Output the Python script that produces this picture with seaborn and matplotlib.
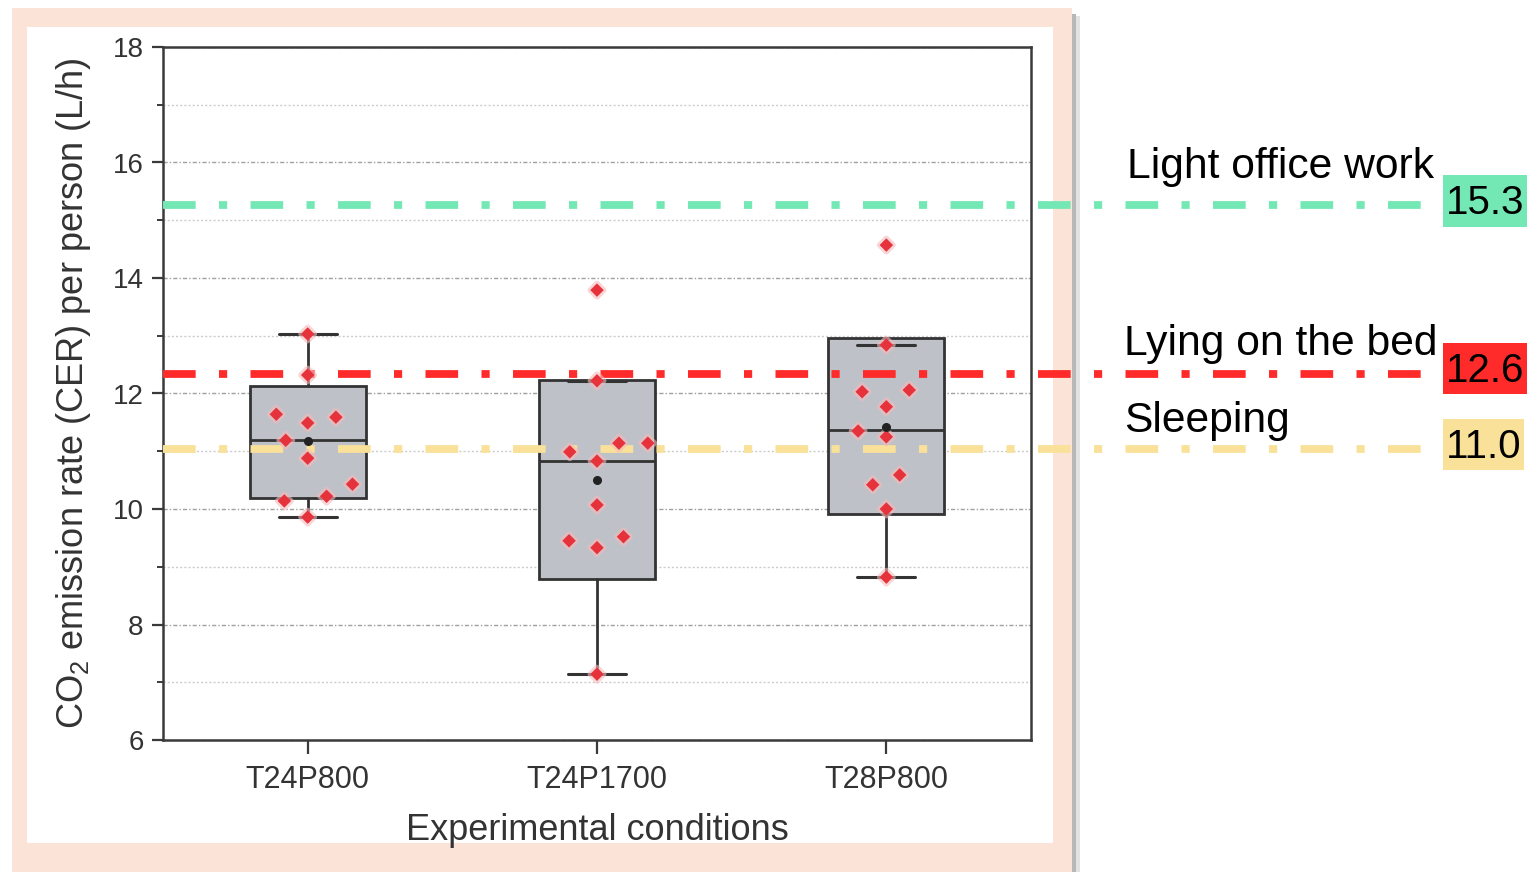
import numpy as np
import pandas as pd
import matplotlib
matplotlib.use("Agg")
import matplotlib.pyplot as plt
import matplotlib.patheffects as pe
from matplotlib.patches import Rectangle
from matplotlib.ticker import MultipleLocator
import seaborn as sns

# ---------------- data ----------------
conditions = ["T24P800", "T24P1700", "T28P800"]
cer_t24p800 = [13.03, 12.32, 11.64, 11.49, 11.59, 11.19, 10.88, 10.43, 10.22, 10.14, 9.86]
cer_t24p1700 = [13.79, 12.22, 11.14, 10.99, 11.14, 10.83, 10.07, 9.52, 9.45, 9.33, 7.14]
cer_t28p800 = [14.57, 12.84, 12.03, 12.06, 11.77, 11.25, 11.35, 10.59, 10.42, 10.00, 8.82]

box_q1 = [10.19, 8.79, 9.91]
box_q3 = [12.13, 12.23, 12.96]
box_median = [11.19, 10.83, 11.37]
box_mean = [11.18, 10.50, 11.42]
whisker_low = [9.86, 7.14, 8.82]
whisker_high = [13.03, 12.22, 12.84]

activity_labels = ["Light office work", "Lying on the bed", "Sleeping"]
activity_values = ["15.3", "12.6", "11.0"]
activity_levels = [15.27, 12.34, 11.04]
activity_colors = ["#74E8B4", "#FF2A2A", "#FAE199"]

y_ticks = [6, 8, 10, 12, 14, 16, 18]

# ---------------- style ----------------
sns.set_style("ticks")
plt.rcParams["font.family"] = ["Liberation Sans", "DejaVu Sans"]
plt.rcParams["mathtext.default"] = "regular"

W, H = 1529, 872
fig = plt.figure(figsize=(W / 100, H / 100), dpi=100)
fig.patch.set_facecolor("white")


def fig_rect(x0, y0, x1, y1, color, z):
    fig.patches.append(Rectangle((x0 / W, 1 - y1 / H), (x1 - x0) / W, (y1 - y0) / H,
                                 transform=fig.transFigure, facecolor=color,
                                 edgecolor="none", zorder=z))


# pink frame, inner white panel, shadow
fig_rect(1072, 14, 1076, H, "#B8B8B8", -12)
fig_rect(1076, 16, 1080, H, "#E2E2E2", -12)
fig_rect(12, 8, 1072, H, "#FCE3D8", -11)
fig_rect(27, 27, 1053, 843, "white", -10)

ax = fig.add_axes([163 / W, 1 - 740 / H, (1031 - 163) / W, (740 - 47) / H])
ax.set_facecolor("none")

# ---------------- boxes ----------------
stats = []
for i, c in enumerate(conditions):
    stats.append(dict(label=c, q1=box_q1[i], q3=box_q3[i], med=box_median[i], mean=box_mean[i],
                      whislo=whisker_low[i], whishi=whisker_high[i], fliers=[]))
edge = "#333333"
ax.bxp(stats, positions=range(len(conditions)), widths=0.4, capwidths=0.2,
       patch_artist=True, showmeans=True, showfliers=False,
       boxprops=dict(facecolor="#BEC2C8", edgecolor=edge, linewidth=2.0),
       whiskerprops=dict(color=edge, linewidth=2.0),
       capprops=dict(color=edge, linewidth=2.2),
       medianprops=dict(color=edge, linewidth=2.0),
       meanprops=dict(marker="o", markerfacecolor="#222222", markeredgecolor="#222222",
                      markersize=5.5, zorder=6),
       zorder=2)

# ---------------- activity reference lines ----------------
x_end = (1428 - 163) / (1031 - 163)
for lvl, col in zip(activity_levels, activity_colors):
    ax.axhline(lvl, xmin=0, xmax=x_end, color=col, linewidth=5.6,
               linestyle=(0, (4.2, 3.0, 1.05, 3.0)), clip_on=False, zorder=3)

# ---------------- points ----------------
df = pd.DataFrame({
    "condition": np.repeat(conditions, [len(cer_t24p800), len(cer_t24p1700), len(cer_t28p800)]),
    "cer": cer_t24p800 + cer_t24p1700 + cer_t28p800,
})
n_before = len(ax.collections)
sns.swarmplot(data=df, x="condition", y="cer", order=conditions, marker="D", size=6.8,
              color="#E5323B", linewidth=13, edgecolor="none", ax=ax, zorder=4)
for coll in ax.collections[n_before:]:
    coll.set_zorder(4)
    coll.set_path_effects([pe.withStroke(linewidth=4, foreground="#F6B9BC", alpha=0.6)])

# ---------------- axes ----------------
ax.set_xlim(-0.5, 2.5)
ax.set_ylim(6, 18)
ax.set_yticks(y_ticks)
ax.yaxis.set_minor_locator(MultipleLocator(1))
ax.set_xticks(range(len(conditions)))
ax.set_xticklabels(conditions)
ax.set_axisbelow(True)
ax.yaxis.grid(True, which="major", color="#A0A0A0", linewidth=1.0, linestyle=(0, (3, 1.5, 1, 1.5)))
ax.yaxis.grid(True, which="minor", color="#CCCCCC", linewidth=1.0, linestyle=(0, (1.5, 1.5)))
ax.xaxis.grid(False)

for s in ax.spines.values():
    s.set_visible(True)
    s.set_color("#3A3A3A")
    s.set_linewidth(1.8)

ax.tick_params(axis="y", which="major", length=8, width=1.6, direction="out", colors="#3A3A3A",
               labelsize=20, labelcolor="#333333", pad=6)
ax.tick_params(axis="y", which="minor", length=4, width=1.4, direction="out", colors="#3A3A3A")
ax.tick_params(axis="x", which="major", length=10, width=1.6, direction="out", colors="#3A3A3A",
               labelsize=22, labelcolor="#333333", pad=8)
ax.tick_params(top=False, right=False, which="both")

ax.set_xlabel("Experimental conditions", fontsize=26, color="#333333", labelpad=13)
ax.set_ylabel("CO$_2$ emission rate (CER) per person (L/h)", fontsize=26, color="#333333", labelpad=14)

# ---------------- right-hand labels ----------------
label_baselines = [178, 355, 432]
label_lefts = [1127, 1124, 1124]
for txt, yb, xl in zip(activity_labels, label_baselines, label_lefts):
    fig.text(xl / W, 1 - yb / H, txt, fontsize=30.7, color="black", ha="left", va="baseline")

value_boxes = [(1443, 175, 1527, 227), (1443, 343, 1527, 394), (1443, 419, 1524, 470)]
for val, (x0, y0, x1, y1), col in zip(activity_values, value_boxes, activity_colors):
    fig_rect(x0, y0, x1, y1, col, 1)
    fig.text((x0 + x1) / 2 / W, 1 - ((y0 + y1) / 2 + 2) / H, val, fontsize=29, color="black",
             ha="center", va="center", zorder=2)

fig.savefig("out.png", dpi=100)
